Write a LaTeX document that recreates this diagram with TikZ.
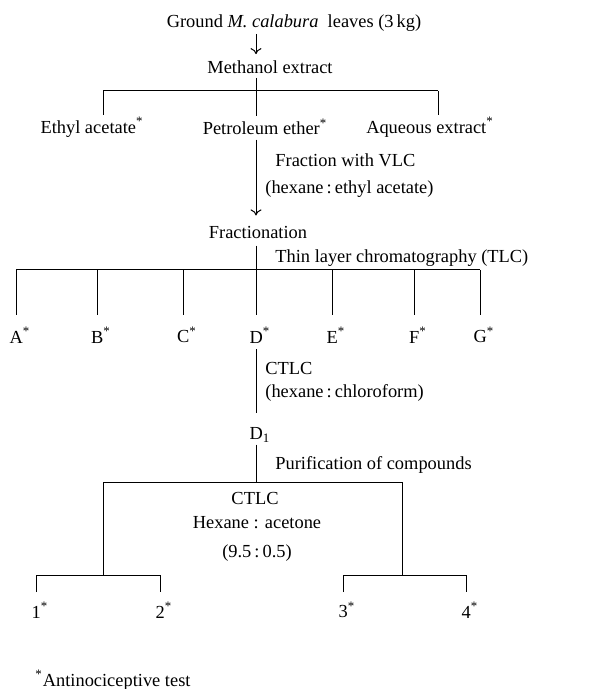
\documentclass[tikz,border=0pt]{standalone}
\usepackage{fontspec}
\setmainfont{Liberation Serif}
\usetikzlibrary{arrows.meta}
\tikzset{
  txt/.style={inner sep=1pt, font=\fontsize{9.2}{11}\selectfont},
  link/.style={line width=0.5pt},
  flow/.style={line width=0.5pt, -{To[length=3pt,width=5.5pt]}}
}
\newcommand{\starmark}{\textsuperscript{*}}
\begin{document}
\begin{tikzpicture}[x=0.5pt,y=-0.5pt]
\useasboundingbox (0,0) rectangle (609,689);
\coordinate (trunk) at (256,0);
%Extraction
\node[txt] (ground) at (294,23) {Ground \textit{M. calabura}\ \ leaves (3\,kg)};
\node[txt] (meth) at (270,67) {Methanol extract};
\draw[flow] (ground.south -| trunk) -- ([yshift=2pt]meth.north -| trunk);
\node[txt] (ethyl) at (92,127) {Ethyl acetate\starmark};
\node[txt] (petrol) at (265,127) {Petroleum ether\starmark};
\node[txt] (aqueous) at (430,127) {Aqueous extract\starmark};
\coordinate (b1l) at (103,91);
\coordinate (b1r) at (438,91);
\draw[link] ([yshift=-1pt]meth.south -| trunk) -- (trunk |- b1l);
\draw[link] (b1l) -- (b1r);
\draw[link] (b1l) -- (b1l |- ethyl.north);
\draw[link] (trunk |- b1l) -- (trunk |- petrol.north);
\draw[link] (b1r) -- (b1r |- aqueous.north);
%Fractionation
\node[txt] (frac) at (258,232) {Fractionation};
\draw[flow] ([yshift=-1pt]petrol.south -| trunk) -- ([yshift=4pt]frac.north -| trunk);
\node[txt, anchor=west] (vlc) at (273,160) {Fraction with VLC};
\node[txt, anchor=west] (vlcsolv) at (263,189) {(hexane\,:\,ethyl acetate)};
\coordinate (b2) at (256,270);
\draw[link] ([yshift=-2.5pt]frac.south -| trunk) -- (b2);
\node[txt, anchor=west] (tlc) at (273,258) {Thin layer chromatography (TLC)};
\draw[link] (16,270) -- (480,270);
\foreach \n/\x in {A/16,B/97,C/183,D/256,E/332,F/414,G/480}{
  \node[txt] (\n) at (\x+4,335) {\n\starmark};
  \draw[link] (\x,270) -- (\x,315);
}
%Column
\node[txt] (d1) at (260,435) {D\textsubscript{1}};
\draw[link] ([yshift=-2pt]D.south -| trunk) -- ([yshift=6pt]d1.north -| trunk);
\node[txt, anchor=west] (ctlc) at (263,368) {CTLC};
\node[txt, anchor=west] (ctlcsolv) at (263,393) {(hexane\,:\,chloroform)};
\coordinate (b3l) at (103,482);
\coordinate (b3r) at (402,482);
\draw[link] (d1.south -| trunk) -- (trunk |- b3l);
\node[txt, anchor=west] (purif) at (273,465) {Purification of compounds};
\draw[link] (b3l) -- (b3r);
\draw[link] (b3l) -- (103,575);
\draw[link] (b3r) -- (402,575);
\node[txt] (ctlc2) at (255,498) {CTLC};
\node[txt] (acet) at (257,523) {Hexane : acetone};
\node[txt] (ratio) at (257,553) {(9.5\,:\,0.5)};
%Compounds
\draw[link] (36,592) |- (160,575) -- (160,592);
\draw[link] (343,592) |- (466,575) -- (466,592);
\foreach \n/\x in {1/36,2/160,3/343,4/466}{
  \node[txt] (c\n) at (\x+4,610) {\n\starmark};
}
%Footnote
\node[txt, anchor=west] (note) at (33,680) {\starmark Antinociceptive test};
\end{tikzpicture}
\end{document}
